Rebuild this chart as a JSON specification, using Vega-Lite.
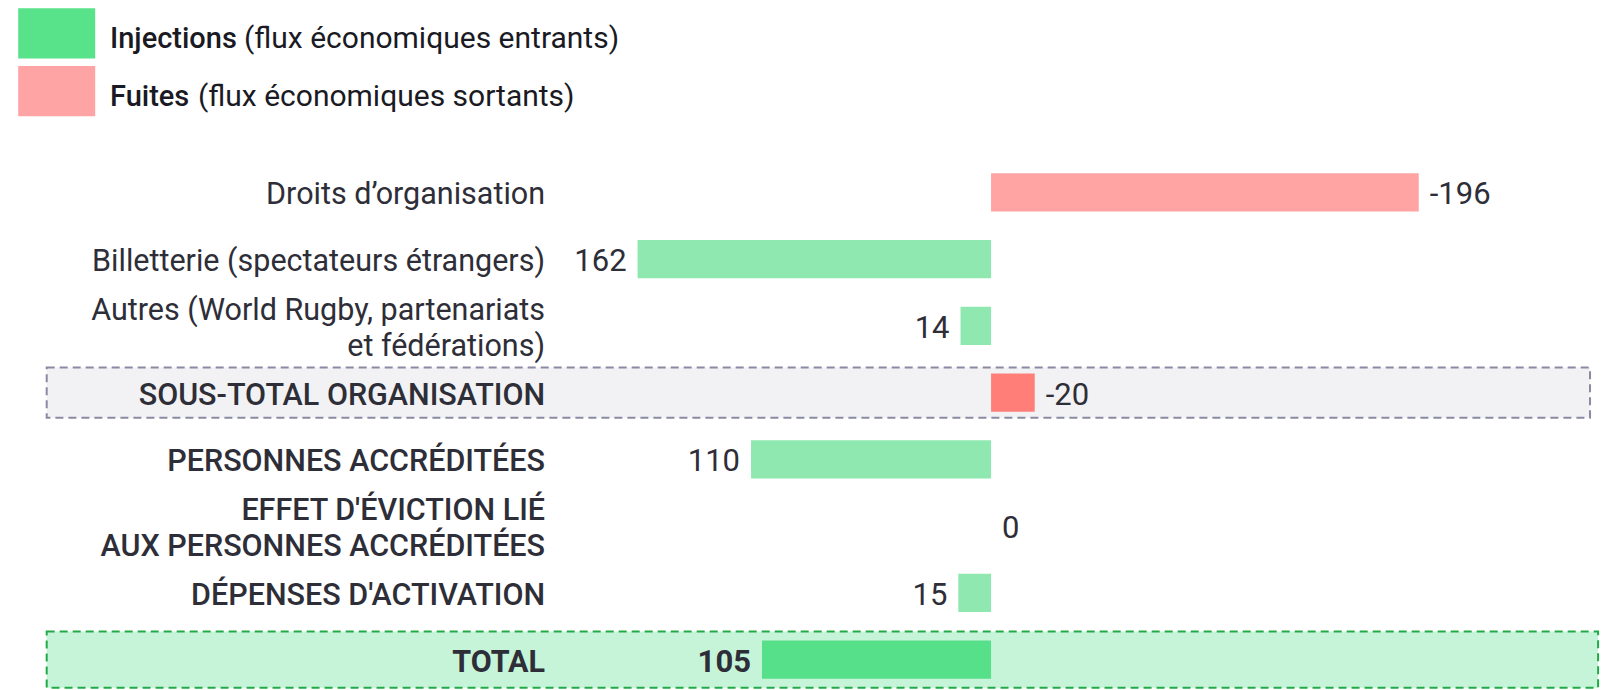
{
  "$schema": "https://vega.github.io/schema/vega-lite/v6.json",
  "padding": 0,
  "spacing": 0,
  "background": "#ffffff",
  "config": {"view": {"stroke": null}, "font": "Roboto"},
  "resolve": {"scale": {"color": "independent", "x": "independent", "y": "independent"}},
  "vconcat": [
    {
      "width": 1609,
      "height": 159,
      "data": {"values": [
        {"key": "Injections", "desc": "(flux économiques entrants)", "sens": "in"},
        {"key": "Fuites", "desc": "(flux économiques sortants)", "sens": "out"}
      ]},
      "layer": [
        {
          "mark": {"type": "point", "shape": "M-1,-0.65L1,-0.65L1,0.65L-1,0.65Z", "filled": true, "size": 5929, "opacity": 1},
          "encoding": {
            "x": {"datum": 56.7, "type": "quantitative", "scale": {"domain": [0, 1609], "nice": false, "zero": false}, "axis": null},
            "y": {"field": "key", "type": "nominal", "sort": null, "axis": null, "scale": {"domain": ["Injections", "Fuites"], "range": [4.5, 120], "paddingInner": 0, "paddingOuter": 0}},
            "color": {"field": "sens", "type": "nominal", "scale": {"domain": ["in", "out"], "range": ["#58e28a", "#ffa4a4"]}, "legend": null}
          }
        },
        {
          "mark": {"type": "text", "align": "left", "baseline": "middle", "dy": 6, "fontSize": 29, "fontWeight": 500, "color": "#1a1a24"},
          "encoding": {
            "x": {"datum": 110},
            "y": {"field": "key", "type": "nominal", "sort": null},
            "text": {"field": "key"}
          }
        },
        {
          "transform": [{"filter": "datum.key === 'Injections'"}],
          "mark": {"type": "text", "align": "left", "baseline": "middle", "dy": 6, "fontSize": 30, "fontWeight": 400, "color": "#1a1a24"},
          "encoding": {
            "x": {"datum": 244},
            "y": {"field": "key", "type": "nominal", "sort": null},
            "text": {"field": "desc"}
          }
        },
        {
          "transform": [{"filter": "datum.key === 'Fuites'"}],
          "mark": {"type": "text", "align": "left", "baseline": "middle", "dy": 6, "fontSize": 30, "fontWeight": 400, "color": "#1a1a24"},
          "encoding": {
            "x": {"datum": 198},
            "y": {"field": "key", "type": "nominal", "sort": null},
            "text": {"field": "desc"}
          }
        }
      ]
    },
    {
      "width": 1609,
      "height": 531,
      "data": {"values": [
        {"item": "Droits d’organisation", "value": -196, "flow": "fuite", "level": "detail"},
        {"item": "Billetterie (spectateurs étrangers)", "value": 162, "flow": "injection", "level": "detail"},
        {"item": "Autres (World Rugby, partenariats\u00a0\net fédérations)", "value": 14, "flow": "injection", "level": "detail"},
        {"item": "SOUS-TOTAL ORGANISATION", "value": -20, "flow": "sous-total", "level": "main"},
        {"item": "PERSONNES ACCRÉDITÉES", "value": 110, "flow": "injection", "level": "main"},
        {"item": "EFFET D'ÉVICTION LIÉ\nAUX PERSONNES ACCRÉDITÉES", "value": 0, "flow": "injection", "level": "main"},
        {"item": "DÉPENSES D'ACTIVATION", "value": 15, "flow": "injection", "level": "main"},
        {"item": "TOTAL", "value": 105, "flow": "total", "level": "total"}
      ]},
      "encoding": {
        "y": {
          "field": "item", "type": "nominal", "sort": null, "axis": null,
          "scale": {
            "domain": ["Droits d’organisation", "Billetterie (spectateurs étrangers)", "Autres (World Rugby, partenariats\u00a0\net fédérations)", "SOUS-TOTAL ORGANISATION", "PERSONNES ACCRÉDITÉES", "EFFET D'ÉVICTION LIÉ\nAUX PERSONNES ACCRÉDITÉES", "DÉPENSES D'ACTIVATION", "TOTAL"],
            "range": [0, 534], "paddingInner": 0, "paddingOuter": 0
          }
        }
      },
      "layer": [
        {
          "transform": [{"filter": "datum.flow === 'sous-total'"}],
          "mark": {"type": "bar", "height": {"band": 0.75}, "fill": "#f2f2f4", "stroke": "#8a8aa2", "strokeWidth": 2, "strokeDash": [8, 5]},
          "encoding": {
            "x": {"datum": 432.8, "type": "quantitative", "scale": {"domain": [-283.2, 454.2], "reverse": true, "nice": false, "zero": false}, "axis": null},
            "x2": {"datum": -274.5}
          }
        },
        {
          "transform": [{"filter": "datum.flow === 'total'"}],
          "mark": {"type": "bar", "height": {"band": 0.84}, "fill": "#c6f4d8", "stroke": "#22aa48", "strokeWidth": 2, "strokeDash": [8, 5]},
          "encoding": {
            "x": {"datum": 432.8, "type": "quantitative"},
            "x2": {"datum": -278.2}
          }
        },
        {
          "mark": {"type": "bar", "height": {"band": 0.57}},
          "encoding": {
            "x": {"field": "value", "type": "quantitative"},
            "x2": {"datum": 0},
            "color": {"field": "flow", "type": "nominal", "scale": {"domain": ["fuite", "injection", "sous-total", "total"], "range": ["#ffa4a2", "#8fe8b0", "#ff7e78", "#57e08a"]}, "legend": null}
          }
        },
        {
          "mark": {"type": "rule", "color": "#c8c8c8", "strokeWidth": 2},
          "encoding": {"x": {"datum": 0}}
        },
        {
          "transform": [{"filter": "datum.level === 'detail' && indexof(datum.item, '\\n') < 0"}],
          "mark": {"type": "text", "align": "right", "baseline": "middle", "dy": 3, "fontSize": 30.5, "fontWeight": 400, "color": "#2e2e38"},
          "encoding": {"x": {"datum": 204.4}, "text": {"field": "item"}}
        },
        {
          "transform": [{"filter": "datum.level === 'detail' && indexof(datum.item, '\\n') >= 0"}],
          "mark": {"type": "text", "align": "right", "baseline": "middle", "dy": -15, "fontSize": 30.5, "fontWeight": 400, "color": "#2e2e38", "lineBreak": "\n", "lineHeight": 36},
          "encoding": {"x": {"datum": 204.4}, "text": {"field": "item"}}
        },
        {
          "transform": [{"filter": "datum.level === 'main' && indexof(datum.item, '\\n') < 0"}],
          "mark": {"type": "text", "align": "right", "baseline": "middle", "dy": 3, "fontSize": 30.5, "fontWeight": 500, "color": "#2e2e38"},
          "encoding": {"x": {"datum": 204.4}, "text": {"field": "item"}}
        },
        {
          "transform": [{"filter": "datum.level === 'main' && indexof(datum.item, '\\n') >= 0"}],
          "mark": {"type": "text", "align": "right", "baseline": "middle", "dy": -15, "fontSize": 30.5, "fontWeight": 500, "color": "#2e2e38", "lineBreak": "\n", "lineHeight": 36},
          "encoding": {"x": {"datum": 204.4}, "text": {"field": "item"}}
        },
        {
          "transform": [{"filter": "datum.level === 'total'"}],
          "mark": {"type": "text", "align": "right", "baseline": "middle", "dy": 3, "fontSize": 30.5, "fontWeight": 700, "color": "#2e2e38"},
          "encoding": {"x": {"datum": 204.4}, "text": {"field": "item"}}
        },
        {
          "transform": [{"filter": "datum.value > 0 && datum.level !== 'total'"}],
          "mark": {"type": "text", "align": "right", "baseline": "middle", "dx": -11, "dy": 3, "fontSize": 31, "fontWeight": 400, "color": "#2e2e38"},
          "encoding": {"x": {"field": "value", "type": "quantitative"}, "text": {"field": "value", "type": "nominal"}}
        },
        {
          "transform": [{"filter": "datum.level === 'total'"}],
          "mark": {"type": "text", "align": "right", "baseline": "middle", "dx": -11, "dy": 3, "fontSize": 31, "fontWeight": 700, "color": "#2e2e38"},
          "encoding": {"x": {"field": "value", "type": "quantitative"}, "text": {"field": "value", "type": "nominal"}}
        },
        {
          "transform": [{"filter": "datum.value <= 0"}],
          "mark": {"type": "text", "align": "left", "baseline": "middle", "dx": 11, "dy": 3, "fontSize": 31, "fontWeight": 400, "color": "#2e2e38"},
          "encoding": {"x": {"field": "value", "type": "quantitative"}, "text": {"field": "value", "type": "nominal"}}
        }
      ]
    }
  ]
}
